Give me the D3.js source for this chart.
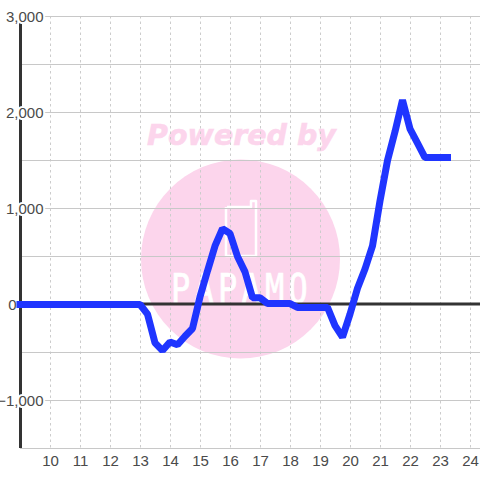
<!DOCTYPE html>
<html><head><meta charset="utf-8">
<script src="https://cdn.jsdelivr.net/npm/d3@7"></script>
<style>html,body{margin:0;padding:0;background:#fff}svg{display:block}</style>
</head><body><svg id="c" width="480" height="480"></svg>
<script>
const xTicks=[10,11,12,13,14,15,16,17,18,19,20,21,22,23,24];
const yTicks=[-1000,0,1000,2000,3000];
const yMinor=[-500,500,1500,2500];
const hours=[9,9.25,9.5,9.75,10,10.25,10.5,10.75,11,11.25,11.5,11.75,12,12.25,12.5,12.75,13,13.25,13.5,13.75,14,14.25,14.5,14.75,15,15.25,15.5,15.75,16,16.25,16.5,16.75,17,17.25,17.5,17.75,18,18.25,18.5,18.75,19,19.25,19.5,19.75,20,20.25,20.5,20.75,21,21.25,21.5,21.75,22,22.25,22.5,22.75,23,23.25];
const values=[0,0,0,0,0,0,0,0,0,0,0,0,0,0,0,0,0,-100,-400,-480,-390,-420,-330,-250,80,350,610,790,740,500,340,70,70,10,10,10,10,-30,-30,-30,-30,-30,-220,-340,-100,170,370,610,1080,1500,1800,2130,1830,1680,1530,1530,1530,1530];
const x=d3.scaleLinear().domain([9,24.3333]).range([20,480]);
const y=d3.scaleLinear().domain([-1500,3000]).range([448.5,16.5]);
const svg=d3.select("#c");
const font="'Liberation Sans',Arial,sans-serif";
// watermark
const wm=svg.append("g");
wm.append("circle").attr("cx",240.5).attr("cy",259).attr("r",99.5).attr("fill","#fcd5ec");
wm.append("text").attr("x",241.5).attr("y",145).attr("text-anchor","middle")
  .attr("font-family","'DejaVu Sans',sans-serif").attr("font-weight","bold").attr("font-style","italic")
  .attr("font-size",28.5).attr("fill","#fcd5ec").attr("stroke","#fcd5ec").attr("stroke-width",.6).text("Powered by");
wm.append("path").attr("d","M227 207 H251 V201 H256 V256 H226 V207").attr("fill","none").attr("stroke","#fff").attr("stroke-width",2.5).attr("stroke-linejoin","round");
wm.append("text").attr("transform","translate(171,303) scale(.8,1)")
  .attr("x","0 29.4 58.8 88.2 117.6 147").attr("y",0)
  .attr("font-family","'DejaVu Sans Mono',monospace").attr("font-size",40).attr("fill","#fff")
  .attr("stroke","#fff").attr("stroke-width",.7).text("PAPAMO");
// grid
const g=svg.append("g");
g.selectAll("line.v").data(xTicks).join("line").attr("class","v")
  .attr("x1",d=>Math.round(x(d))+.5).attr("x2",d=>Math.round(x(d))+.5).attr("y1",16).attr("y2",448)
  .attr("stroke","#ccc").attr("stroke-width",1).attr("stroke-dasharray","2.5,3");
g.selectAll("line.h").data(yTicks.concat(yMinor).concat([-1500])).join("line").attr("class","h")
  .attr("x1",20).attr("x2",480).attr("y1",d=>Math.floor(y(d))+.5).attr("y2",d=>Math.floor(y(d))+.5)
  .attr("stroke","#c8c8c8").attr("stroke-width",1);
// axes
g.append("line").attr("x1",20.5).attr("x2",20.5).attr("y1",16).attr("y2",448).attr("stroke","#333").attr("stroke-width",3);
g.append("line").attr("x1",20).attr("x2",480).attr("y1",y(0)-.5).attr("y2",y(0)-.5).attr("stroke","#333").attr("stroke-width",3);
// y labels
svg.append("g").selectAll("text").data(yTicks).join("text")
  .attr("x",d=>d===0?16.5:43.5).attr("y",d=>y(d)+5.5).attr("text-anchor","end")
  .attr("font-family",font).attr("font-size",15).attr("fill","#4a4a4a")
  .attr("stroke","#fff").attr("stroke-width",d=>d===0?0:4).attr("paint-order","stroke").attr("stroke-linejoin","round")
  .text(d=>d3.format(",")(d));
// x labels
svg.append("g").selectAll("text").data(xTicks).join("text")
  .attr("x",d=>x(d)+.5).attr("y",466).attr("text-anchor","middle")
  .attr("font-family",font).attr("font-size",15).attr("fill","#4a4a4a").text(d=>d);
// line
const line=d3.line().x((d,i)=>x(hours[i])).y(d=>y(d));
svg.append("path").datum(values).attr("d",line).attr("fill","none").attr("stroke","#1f35ff")
  .attr("stroke-width",7).attr("stroke-linejoin","bevel").attr("stroke-linecap","square");
</script></body></html>
